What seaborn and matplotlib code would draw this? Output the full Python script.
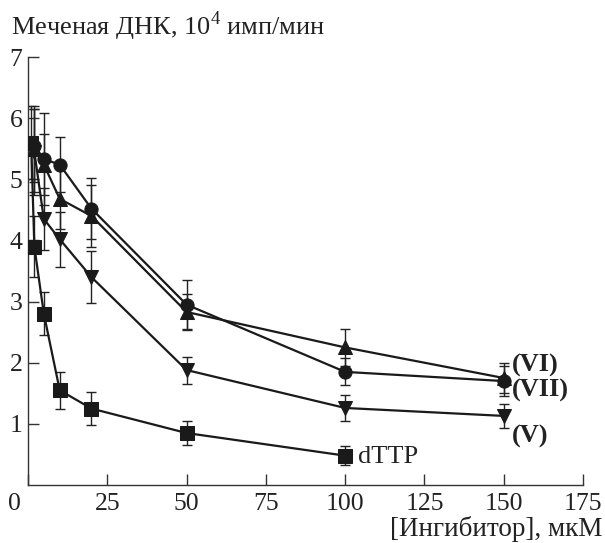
import matplotlib
matplotlib.use("Agg")
import matplotlib.pyplot as plt
import matplotlib.transforms as mtransforms
import seaborn as sns
import pandas as pd

# ---- data ----
x_dttp = [1, 2, 5, 10, 20, 50, 100]
y_dttp = [5.6, 3.9, 2.8, 1.55, 1.25, 0.85, 0.48]
e_dttp = [0.6, 0.5, 0.35, 0.3, 0.27, 0.2, 0.16]

x_inh = [2, 5, 10, 20, 50, 100, 150]
y_vi = [5.5, 5.24, 4.68, 4.40, 2.83, 2.25, 1.75]
e_vi = [0.7, 0.5, 0.5, 0.5, 0.3, 0.3, 0.25]
y_vii = [5.55, 5.33, 5.24, 4.52, 2.95, 1.85, 1.70]
e_vii = [0.6, 0.75, 0.45, 0.5, 0.4, 0.22, 0.25]
y_v = [5.45, 4.35, 4.02, 3.40, 1.88, 1.26, 1.13]
e_v = [0.7, 0.5, 0.45, 0.42, 0.22, 0.22, 0.2]

x_ticks = [0, 25, 50, 75, 100, 125, 150, 175]
y_ticks = [1, 2, 3, 4, 5, 6, 7]

sns.set_style("ticks")
plt.rcParams['font.family'] = ['Liberation Serif', 'DejaVu Serif']
plt.rcParams['mathtext.fontset'] = 'custom'
plt.rcParams['mathtext.rm'] = 'Liberation Serif'

fig = plt.figure(figsize=(6.05, 5.43), dpi=100)
ax = fig.add_axes([28 / 605, 1 - 485 / 543, (583 - 28) / 605, (485 - 57) / 543])

series = [
    (x_dttp, y_dttp, e_dttp, 's', 10),
    (x_inh, y_vi, e_vi, '^', 9.5),
    (x_inh, y_vii, e_vii, 'o', 9.5),
    (x_inh, y_v, e_v, 'v', 9.5),
]
for xs, ys, es, mk, ms in series:
    ax.errorbar(xs, ys, yerr=es, fmt='none', ecolor='#222222', elinewidth=1.0,
                capsize=3.3, capthick=1.0, zorder=2)
    df = pd.DataFrame({'x': xs, 'y': ys})
    sns.lineplot(data=df, x='x', y='y', ax=ax, color='#1a1a1a', linewidth=1.6,
                 marker=mk, markersize=ms, markeredgecolor='#1a1a1a',
                 markerfacecolor='#1a1a1a', zorder=3, legend=False)

ax.set_xlim(0, 175)
ax.set_ylim(0, 7)
ax.set_xticks(x_ticks)
ax.set_yticks(y_ticks)
ax.set_xlabel('')
ax.set_ylabel('')
for s in ['top', 'right']:
    ax.spines[s].set_visible(False)
for s in ['left', 'bottom']:
    ax.spines[s].set_linewidth(1.0)
    ax.spines[s].set_color('#333333')
ax.tick_params(direction='in', length=8, width=1.0, colors='#333333',
               labelcolor='#222222', labelsize=18.5)
ax.tick_params(axis='x', pad=6)
ax.tick_params(axis='y', pad=4)

# shift the "0" x tick label leftwards, as in the reference
fig.canvas.draw()
lbl0 = ax.get_xticklabels()[0]
lbl0.set_transform(lbl0.get_transform() + mtransforms.ScaledTranslation(-14 / 100, 0, fig.dpi_scale_trans))

# series labels
lab_kw = dict(fontsize=19, fontweight='bold', va='center', ha='left', color='#222222')
ax.text(152.5, 1.96, '(VI)', **lab_kw)
ax.text(152.5, 1.54, '(VII)', **lab_kw)
ax.text(152.5, 0.80, '(V)', **lab_kw)
ax.text(104, 0.45, 'dTTP', fontsize=19, va='center', ha='left', color='#222222')

fig.text(11 / 605, 1 - 26 / 543, 'Меченая ДНК, 10$^4$ имп/мин', fontsize=19,
         va='center', ha='left', color='#222222')
fig.text(603 / 605, 1 / 543, '[Ингибитор], мкМ', fontsize=19.5,
         va='bottom', ha='right', color='#222222')

fig.savefig('out.png', dpi=100)
